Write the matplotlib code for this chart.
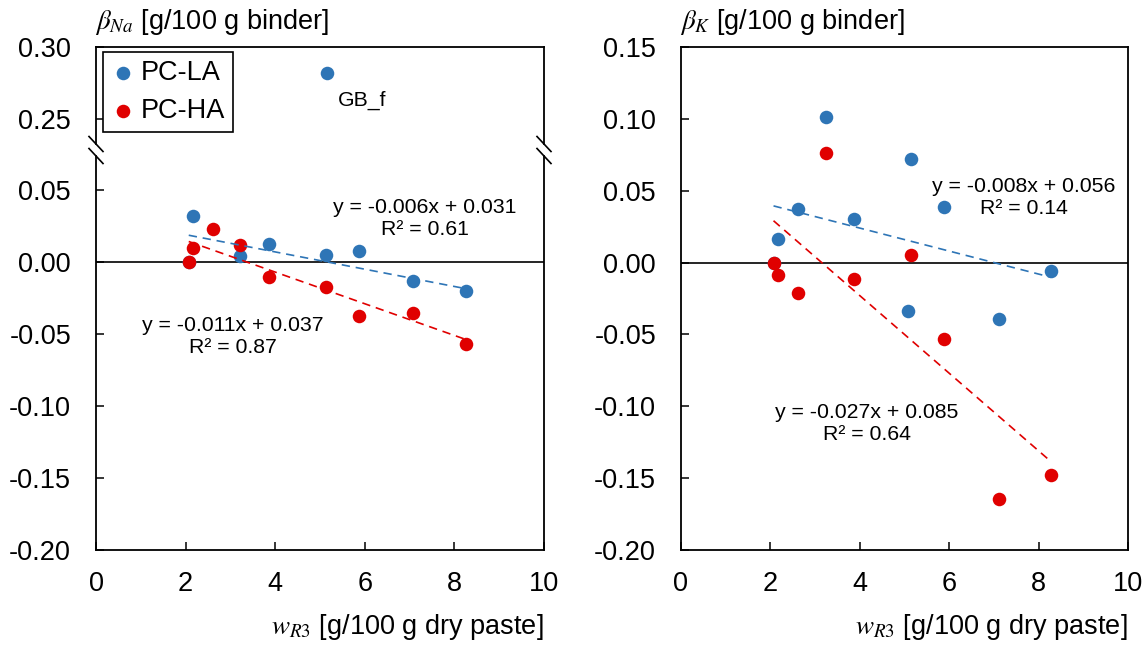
import matplotlib
matplotlib.use("Agg")
import matplotlib.pyplot as plt
from matplotlib.lines import Line2D
import numpy as np

plt.rcParams["font.family"] = ["Liberation Sans", "DejaVu Sans"]
plt.rcParams["mathtext.fontset"] = "stix"
plt.rcParams["axes.unicode_minus"] = False

# ── data ──
# left panel: beta_Na
na_la_x = [2.07, 2.16, 3.22, 3.87, 5.13, 5.88, 7.08, 8.26]
na_la_y = [0.000, 0.032, 0.0042, 0.0124, 0.0049, 0.0074, -0.013, -0.020]
na_gbf_x = [5.16]
na_gbf_y = [0.282]
na_ha_x = [2.07, 2.16, 2.62, 3.22, 3.87, 5.13, 5.88, 7.08, 8.26]
na_ha_y = [0.000, 0.0097, 0.023, 0.0115, -0.0102, -0.0174, -0.0375, -0.0352, -0.0572]
na_la_fit = (-0.006, 0.031)
na_ha_fit = (-0.011, 0.037)

# right panel: beta_K
k_la_x = [2.07, 2.16, 2.62, 3.24, 3.88, 5.07, 5.14, 5.89, 7.11, 8.28]
k_la_y = [0.000, 0.0164, 0.0371, 0.1015, 0.0303, -0.0335, 0.0721, 0.0389, -0.0392, -0.0058]
k_ha_x = [2.07, 2.16, 2.62, 3.24, 3.88, 5.14, 5.89, 7.11, 8.28]
k_ha_y = [0.000, -0.0086, -0.0214, 0.0765, -0.0114, 0.0055, -0.0532, -0.1645, -0.1478]
k_la_fit = (-0.008, 0.056)
k_ha_fit = (-0.027, 0.085)

series_labels = ["PC-LA", "PC-HA"]
x_ticks = [0, 2, 4, 6, 8, 10]

BLUE = "#2e75b6"
RED = "#e00000"
W, H = 1148, 648
FS = 19.5      # ticks / legend / axis titles
FS_EQ = 15.3   # trendline equations
MS = 95

fig = plt.figure(figsize=(W / 100, H / 100), dpi=100)


def box(x0, y0, x1, y1):
    # pixel box (top-left origin) -> figure fraction rect
    return [x0 / W, 1 - y1 / H, (x1 - x0) / W, (y1 - y0) / H]


ax_top = fig.add_axes(box(96, 47, 544, 144))
ax_na = fig.add_axes(box(96, 156, 544, 550))
ax_k = fig.add_axes(box(681, 47, 1128, 550))


def style(ax, xticks=True):
    for s in ax.spines.values():
        s.set_linewidth(1.3)
    ax.tick_params(direction="in", length=6, width=1.1, labelsize=FS,
                   top=False, right=False, pad=15)
    ax.tick_params(axis="y", pad=18)
    ax.set_xlim(0, 10)
    ax.set_xticks(x_ticks)
    if not xticks:
        ax.tick_params(axis="x", bottom=False, labelbottom=False)


def trend(ax, xs, fit, color):
    xx = np.array([min(xs), max(xs)])
    ax.plot(xx, fit[0] * xx + fit[1], color=color, lw=1.2,
            ls=(0, (5, 3.5)), zorder=4)


# ── left panel (broken y axis) ──
style(ax_top, xticks=False)
ax_top.spines["bottom"].set_visible(False)
ax_top.set_ylim(0.30 - 97 / 1440, 0.30)
ax_top.set_yticks([0.25, 0.30])
ax_top.set_yticklabels(["0.25", "0.30"])
h_la = ax_top.scatter(na_gbf_x, na_gbf_y, s=MS, color=BLUE, lw=0, zorder=3)
ax_top.text(5.93, 0.2632, "GB_f", fontsize=FS_EQ, ha="center", va="center")

style(ax_na)
ax_na.spines["top"].set_visible(False)
ax_na.set_ylim(-0.20, -0.20 + 394 / 1440)
na_ticks = [-0.20, -0.15, -0.10, -0.05, 0.00, 0.05]
ax_na.set_yticks(na_ticks)
ax_na.set_yticklabels([f"{t:.2f}" for t in na_ticks])
ax_na.axhline(0, color="black", lw=1.2, zorder=2)
ax_na.scatter(na_la_x, na_la_y, s=MS, color=BLUE, lw=0, zorder=3)
h_ha = ax_na.scatter(na_ha_x, na_ha_y, s=MS, color=RED, lw=0, zorder=3)
trend(ax_na, na_la_x, na_la_fit, BLUE)
trend(ax_na, na_ha_x, na_ha_fit, RED)
ax_na.text(7.34, 0.0305, "y = -0.006x + 0.031\nR² = 0.61", fontsize=FS_EQ,
           ha="center", va="center", linespacing=1.2)
ax_na.text(3.06, -0.0514, "y = -0.011x + 0.037\nR² = 0.87", fontsize=FS_EQ,
           ha="center", va="center", linespacing=1.2)

leg = ax_top.legend([h_la, h_ha], series_labels, loc="upper left",
                    bbox_to_anchor=(103 / W, 1 - 52 / H), bbox_transform=fig.transFigure,
                    borderaxespad=0, fontsize=FS, fancybox=False, framealpha=1,
                    edgecolor="black", borderpad=0.3, handletextpad=0.2,
                    labelspacing=0.45, handlelength=0.9, scatterpoints=1)
leg.get_frame().set_linewidth(1.2)

# break marks
for bx in (96, 544):
    for by in (144, 156):
        fig.add_artist(Line2D([(bx - 7) / W, (bx + 7) / W],
                              [1 - (by - 7.5) / H, 1 - (by + 7.5) / H],
                              transform=fig.transFigure, color="black", lw=1.2))

# ── right panel ──
style(ax_k)
ax_k.set_ylim(-0.20, 0.15)
k_ticks = [-0.20, -0.15, -0.10, -0.05, 0.00, 0.05, 0.10, 0.15]
ax_k.set_yticks(k_ticks)
ax_k.set_yticklabels([f"{t:.2f}" for t in k_ticks])
ax_k.axhline(0, color="black", lw=1.2, zorder=2)
ax_k.scatter(k_la_x, k_la_y, s=MS, color=BLUE, lw=0, zorder=3)
ax_k.scatter(k_ha_x, k_ha_y, s=MS, color=RED, lw=0, zorder=3)
trend(ax_k, k_la_x, k_la_fit, BLUE)
trend(ax_k, k_ha_x, k_ha_fit, RED)
ax_k.text(7.67, 0.045, "y = -0.008x + 0.056\nR² = 0.14", fontsize=FS_EQ,
          ha="center", va="center", linespacing=1.2)
ax_k.text(4.15, -0.1123, "y = -0.027x + 0.085\nR² = 0.64", fontsize=FS_EQ,
          ha="center", va="center", linespacing=1.2)

# axis titles
fig.text(95 / W, 1 - 22 / H, r"$\beta_{Na}$ [g/100 g binder]", fontsize=FS,
         ha="left", va="center")
fig.text(680 / W, 1 - 22 / H, r"$\beta_{K}$ [g/100 g binder]", fontsize=FS,
         ha="left", va="center")
fig.text(544 / W, 1 - 627 / H, r"$w_{\mathit{R3}}$ [g/100 g dry paste]", fontsize=FS,
         ha="right", va="center")
fig.text(1128 / W, 1 - 627 / H, r"$w_{\mathit{R3}}$ [g/100 g dry paste]", fontsize=FS,
         ha="right", va="center")

fig.savefig("out.png", dpi=100)
